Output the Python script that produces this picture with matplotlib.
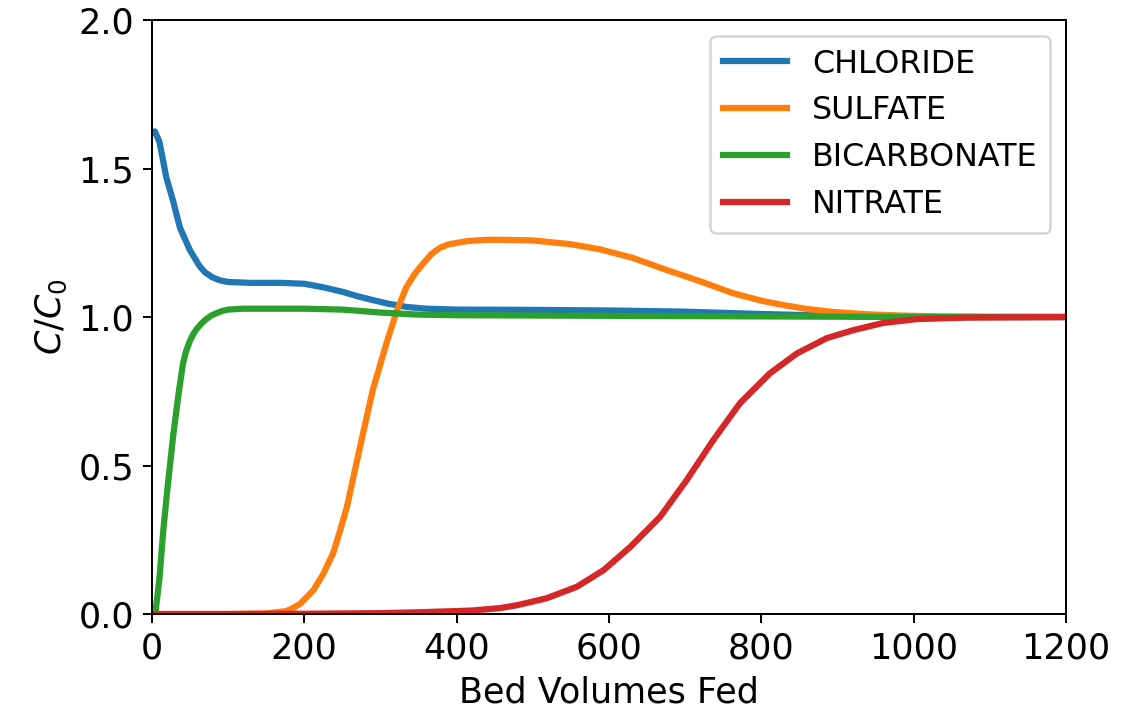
import matplotlib
matplotlib.use("Agg")
import matplotlib.pyplot as plt

# values
cl_x = [0, 4, 10, 19, 28, 37, 50, 63, 70, 80, 90, 100, 130, 170, 200, 225, 250, 270, 290, 310, 334, 360,
        400, 500, 600, 700, 800, 900, 1000, 1100, 1200]
cl_y = [1.62, 1.625, 1.59, 1.47, 1.39, 1.30, 1.225, 1.17, 1.15, 1.133, 1.123, 1.118, 1.115, 1.115, 1.112,
        1.10, 1.085, 1.07, 1.057, 1.045, 1.034, 1.028, 1.025, 1.024, 1.022, 1.018, 1.01, 1.004, 1.001,
        1.0, 1.0]

so4_x = [0, 100, 150, 177, 185, 195, 212, 225, 238, 247, 256, 273, 290, 308, 322, 334, 345, 356, 367,
         378, 390, 415, 440, 457, 500, 550, 588, 630, 676, 720, 763, 800, 829, 860, 894, 940, 982, 1050,
         1200]
so4_y = [0.0, 0.0, 0.002, 0.01, 0.02, 0.035, 0.08, 0.135, 0.205, 0.28, 0.36, 0.56, 0.754, 0.912, 1.024,
         1.10, 1.145, 1.18, 1.212, 1.233, 1.245, 1.256, 1.26, 1.26, 1.258, 1.245, 1.228, 1.20, 1.158,
         1.12, 1.08, 1.055, 1.04, 1.027, 1.017, 1.009, 1.005, 1.001, 1.0]

hco3_x = [0, 5, 10, 15, 20, 28, 35, 41, 45, 50, 55, 59, 65, 70, 78, 85, 92, 100, 120, 200, 250, 300,
          350, 400, 600, 800, 1000, 1200]
hco3_y = [0.0, 0.01, 0.12, 0.28, 0.41, 0.60, 0.74, 0.845, 0.885, 0.92, 0.945, 0.96, 0.978, 0.99, 1.005,
          1.013, 1.02, 1.025, 1.028, 1.028, 1.025, 1.015, 1.008, 1.006, 1.004, 1.002, 1.0, 1.0]

no3_x = [0, 100, 200, 300, 350, 400, 421, 457, 480, 518, 558, 593, 628, 667, 702, 737, 772, 811, 847,
         886, 921, 960, 1004, 1069, 1200]
no3_y = [0.0, 0.0, 0.001, 0.003, 0.006, 0.01, 0.012, 0.02, 0.03, 0.053, 0.092, 0.148, 0.226, 0.327,
         0.451, 0.586, 0.71, 0.81, 0.878, 0.929, 0.956, 0.98, 0.993, 0.998, 1.0]

plt.rcParams['font.size'] = 14

fig = plt.figure(figsize=(1133 / 180, 714 / 180), dpi=180)
ax = fig.add_axes([0.134, 0.140, 0.807, 0.832])

ax.plot(cl_x, cl_y, lw=2.5, label='CHLORIDE')
ax.plot(so4_x, so4_y, lw=2.5, label='SULFATE')
ax.plot(hco3_x, hco3_y, lw=2.5, label='BICARBONATE')
ax.plot(no3_x, no3_y, lw=2.5, label='NITRATE')

ax.set_xlim(0, 1200)
ax.set_ylim(0, 2.0)
ax.set_yticks([0.0, 0.5, 1.0, 1.5, 2.0])
ax.set_xlabel('Bed Volumes Fed')
ax.set_ylabel('$C/C_0$')
ax.legend(loc='upper right', fontsize=12.7)

fig.savefig('out.png', dpi=180)
